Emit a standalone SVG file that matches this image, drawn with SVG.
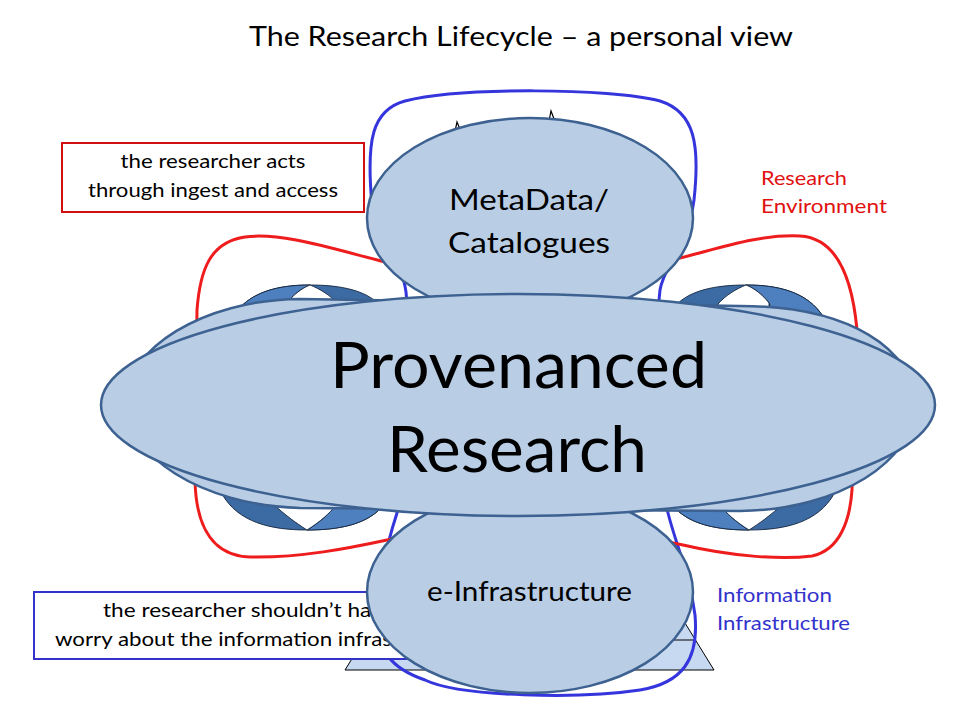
<svg xmlns="http://www.w3.org/2000/svg" xmlns:xlink="http://www.w3.org/1999/xlink" width="960" height="720" viewBox="0 0 960 720">
<defs>
<style>
text{font-family:Lato,"Open Sans","Liberation Sans",sans-serif;fill:#000}
.c{text-anchor:middle}
.ell{fill:#b9cde5;stroke:#3d6190;stroke-width:2.5}
.ringD{fill:#3c6aa3;stroke:#14263d;stroke-width:0.9}
.ringL{fill:#4e80bf;stroke:#14263d;stroke-width:0.9}
.lens{fill:#ffffff;stroke:#14263d;stroke-width:0.9}
.loopR{fill:none;stroke:#ee1c1c;stroke-width:3}
.loopB{fill:none;stroke:#3535dd;stroke-width:3}
.boxR{fill:#ffffff;stroke:#d01010;stroke-width:2}
.boxB{fill:#ffffff;stroke:#3333cc;stroke-width:2}
.note{font-size:20px}
.tick{fill:none;stroke:#000;stroke-width:1.2}
</style>
<g id="ringShape">
<path class="ringD" d="M232,318 C248,291 280,285 310,285 C340,285 370,290 384,310 L362,400 L380,509 C365,524 340,530 307,530 C270,530 238,522 222,494 L262,400 Z"/>
<path class="ringL" d="M232,318 C248,291 280,285 310,285 C302,288 293,295 287,303 L268,350 L250,350 Z"/>
<path class="lens" d="M287,303 C293,295 302,288 310,285 C320,289 330,295 338,304 L338,330 L287,330 Z"/>
<path class="ringL" d="M307,530 C320,522 330,513 336,505 L340,480 L392,480 L380,509 C365,524 340,530 307,530 Z"/>
<path class="lens" d="M272,503 C285,515 296,523 307,530 C320,522 330,513 336,505 L336,480 L272,480 Z"/>
</g>
</defs>
<rect width="960" height="720" fill="#ffffff"/>

<g id="title">
<text class="c" x="521" y="46" font-size="27" textLength="544" lengthAdjust="spacingAndGlyphs">The Research Lifecycle – a personal view</text>
</g>

<g id="node-pyramid">
<polygon points="345,670 714,670 529.5,371" fill="#c6d9f1" stroke="#000" stroke-width="1"/>
<line x1="363.5" y1="640" x2="695.5" y2="640" stroke="#000" stroke-width="1"/>
</g>

<g id="connectors">
<path id="loop-information" class="loopB" d="M372,205 C366,140 372,110 405,101 C460,87 610,88 660,101 C695,112 700,145 694,200 C688,245 664,265 660,290 C652,360 652,450 668,513 C676,545 690,575 695,615 C699,660 682,683 640,690 C580,699 460,697 425,680 C390,668 378,650 378,620 C378,585 385,550 397,513 C410,450 412,350 406,292 C402,260 376,240 372,205 Z"/>
<path id="loop-research" class="loopR" d="M385,262 C330,248 280,232 245,237 C210,242 200,270 197,310 L195,480 C196,530 215,556 250,557 C300,558 350,548 387,540 C450,526 610,528 683,545 C730,556 780,560 812,556 C840,550 850,520 852,490 L857,330 C852,275 835,238 800,236 C760,234 720,248 680,258 C600,278 460,282 385,262 Z"/>
</g>

<g id="note-infrastructure">
<rect class="boxB" x="34" y="592" width="472" height="67"/>
<text class="note" x="103" y="617" textLength="318" lengthAdjust="spacingAndGlyphs">the researcher shouldn’t have to</text>
<text class="note" x="55" y="646" textLength="416" lengthAdjust="spacingAndGlyphs">worry about the information infrastructure</text>
</g>

<g id="node-cycle-left">
<use xlink:href="#ringShape"/>
</g>
<g id="node-cycle-right">
<use xlink:href="#ringShape" transform="translate(1056,0) scale(-1,1)"/>
</g>

<g id="tips">
<path class="tick" d="M454,136 L457,122 L462,134"/>
<path class="tick" d="M548,126 L551,111 L556,124"/>
</g>

<g id="node-metadata">
<ellipse class="ell" cx="530" cy="218" rx="163" ry="100"/>
<text class="c" x="529" y="210" font-size="29" textLength="160" lengthAdjust="spacingAndGlyphs">MetaData/</text>
<text class="c" x="529" y="253" font-size="29" textLength="162" lengthAdjust="spacingAndGlyphs">Catalogues</text>
</g>

<g id="node-einfrastructure">
<ellipse class="ell" cx="530" cy="592" rx="163" ry="101"/>
<text class="c" x="529.5" y="601" font-size="26" textLength="205" lengthAdjust="spacingAndGlyphs">e-Infrastructure</text>
</g>

<g id="node-provenanced">
<path class="ell" d="M125,400 C128,350 200,300 300,299 L740,306 C850,306 915,350 915,405 C915,460 840,510 740,511 L300,508 C200,505 125,455 125,400 Z"/>
<ellipse class="ell" cx="518" cy="405" rx="417" ry="111"/>
<text class="c" x="518.5" y="388" font-size="64" textLength="377" lengthAdjust="spacingAndGlyphs">Provenanced</text>
<text class="c" x="517" y="472" font-size="64" textLength="260" lengthAdjust="spacingAndGlyphs">Research</text>
</g>

<g id="note-ingest">
<rect class="boxR" x="62" y="143" width="302" height="69"/>
<text class="note c" x="213" y="168" textLength="185" lengthAdjust="spacingAndGlyphs">the researcher acts</text>
<text class="note c" x="213" y="197" textLength="250" lengthAdjust="spacingAndGlyphs">through ingest and access</text>
</g>

<g id="label-research-environment">
<text x="761" y="185" font-size="19" style="fill:#e01010" textLength="86" lengthAdjust="spacingAndGlyphs">Research</text>
<text x="761" y="213" font-size="19" style="fill:#e01010" textLength="126" lengthAdjust="spacingAndGlyphs">Environment</text>
</g>

<g id="label-information-infrastructure">
<text x="717" y="602" font-size="19" style="fill:#3333cc" textLength="115" lengthAdjust="spacingAndGlyphs">Information</text>
<text x="717" y="630" font-size="19" style="fill:#3333cc" textLength="133" lengthAdjust="spacingAndGlyphs">Infrastructure</text>
</g>
</svg>
